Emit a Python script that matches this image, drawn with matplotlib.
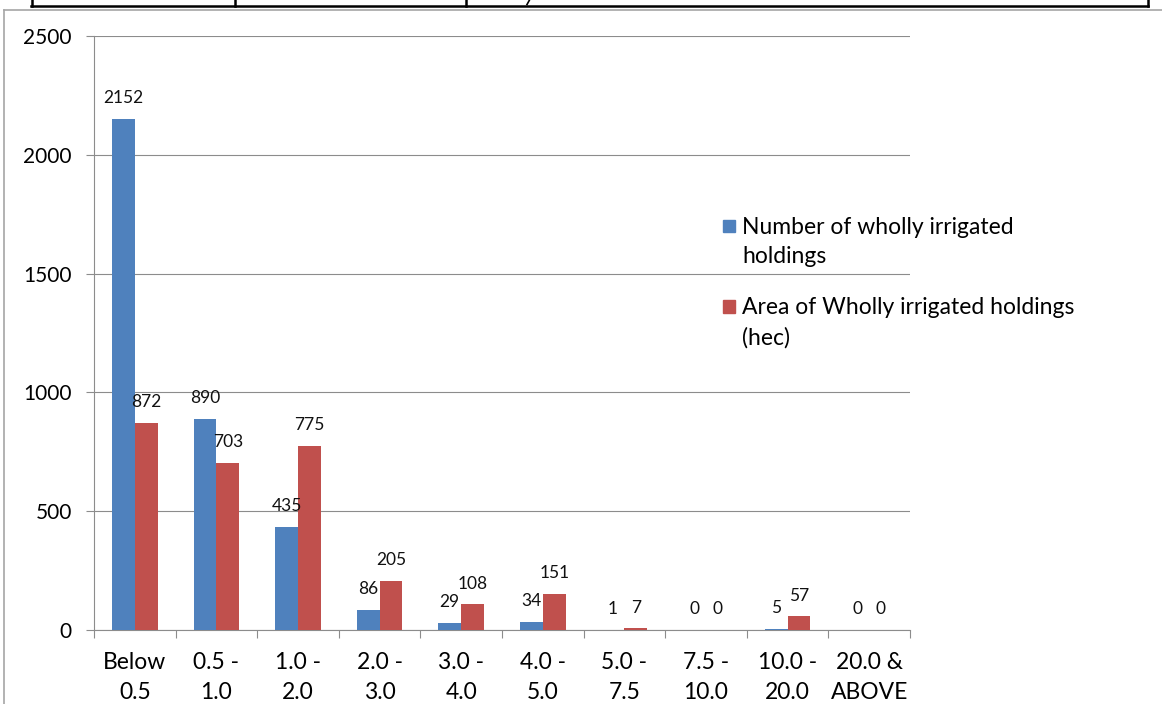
"""Wholly irrigated holdings by size class - bar chart."""

import matplotlib

matplotlib.use("Agg")
import matplotlib.pyplot as plt
import numpy as np
from matplotlib.legend_handler import HandlerPatch
from matplotlib.lines import Line2D
from matplotlib.patches import Patch, Rectangle

# Data
size_classes = [
    "Below\n0.5", "0.5 -\n1.0", "1.0 -\n2.0", "2.0 -\n3.0", "3.0 -\n4.0",
    "4.0 -\n5.0", "5.0 -\n7.5", "7.5 -\n10.0", "10.0 -\n20.0", "20.0 &\nABOVE",
]
num_holdings = [2152, 890, 435, 86, 29, 34, 1, 0, 5, 0]
area_holdings = [872, 703, 775, 205, 108, 151, 7, 0, 57, 0]
series_names = [
    "Number of wholly irrigated\nholdings",
    "Area of Wholly irrigated holdings\n(hec)",
]
y_ticks = [0, 500, 1000, 1500, 2000, 2500]

BLUE = "#4F81BD"
RED = "#C0504D"
GRID = "#8c8c8c"
FONT = ["Lato", "DejaVu Sans"]

plt.rcParams["font.family"] = FONT

W, H = 1162, 704
fig = plt.figure(figsize=(W / 100, H / 100), dpi=100)
fig.patch.set_facecolor("white")


def fx(px):
    return px / W


def fy(py):
    return 1 - py / H


ax = fig.add_axes([fx(94), fy(630), fx(910) - fx(94), fy(36) - fy(630)])

x = np.arange(len(size_classes))
width = 0.28
bars_num = ax.bar(x - width / 2, num_holdings, width, color=BLUE, zorder=3)
bars_area = ax.bar(x + width / 2, area_holdings, width, color=RED, zorder=3)

# Data labels above each bar
for bars, vals in ((bars_num, num_holdings), (bars_area, area_holdings)):
    for b, v in zip(bars, vals):
        ax.annotate(
            f"{v}",
            (b.get_x() + b.get_width() / 2, v),
            xytext=(0, 15),
            textcoords="offset points",
            ha="center",
            va="center",
            fontsize=12.5,
            color="#111111",
        )

ax.set_xlim(-0.5, len(size_classes) - 0.5)
ax.set_ylim(0, 2500)
ax.set_yticks(y_ticks)
ax.set_yticklabels([str(t) for t in y_ticks])
ax.yaxis.grid(True, color=GRID, linewidth=0.8, zorder=0)

ax.set_xticks(x)
ax.set_xticklabels(size_classes, linespacing=1.5)
ax.set_xticks(np.arange(-0.5, len(size_classes)), minor=True)
ax.tick_params(axis="x", which="major", length=0, pad=16, labelsize=16.5)
ax.tick_params(axis="x", which="minor", length=6, color=GRID, width=0.8)
ax.tick_params(axis="y", length=6, color=GRID, width=0.8, pad=10, labelsize=15)

for side in ("top", "right"):
    ax.spines[side].set_visible(False)
for side in ("left", "bottom"):
    ax.spines[side].set_color(GRID)
    ax.spines[side].set_linewidth(0.8)


def top_square(legend, orig_handle, xdescent, ydescent, width, height, fontsize):
    # square next to the first line of a two-line label
    return Rectangle((-xdescent, -ydescent + 13), width, width)


handles = [Patch(color=BLUE), Patch(color=RED)]
leg = fig.legend(
    handles,
    series_names,
    loc="upper left",
    bbox_to_anchor=(fx(702), fy(196)),
    frameon=False,
    fontsize=16.5,
    handlelength=0.55,
    handleheight=0.7,
    handletextpad=0.3,
    labelspacing=1.3,
    handler_map={Patch: HandlerPatch(patch_func=top_square)},
)
for t in leg.get_texts():
    t.set_linespacing(1.5)

# Chart frame and the table border cut off at the top of the screenshot
frame = "#a6a6a6"
fig.add_artist(Line2D([fx(4), 1], [fy(9.5), fy(9.5)], color=frame, lw=1.2, transform=fig.transFigure))
fig.add_artist(Line2D([fx(4), fx(4)], [fy(9.5), 0], color=frame, lw=1.2, transform=fig.transFigure))
fig.add_artist(Line2D([fx(31), fx(1148)], [fy(6), fy(6)], color="black", lw=1.8, transform=fig.transFigure))
for xv in (31.5, 235, 466, 1148):
    fig.add_artist(Line2D([fx(xv), fx(xv)], [1, fy(6)], color="black", lw=1.8, transform=fig.transFigure))
# tail of a glyph from the table row above, cut by the screenshot edge
fig.add_artist(Line2D([fx(529.5), fx(527)], [1, fy(4.5)], color="black", lw=1.2, transform=fig.transFigure))

fig.savefig("out.png", dpi=100)
